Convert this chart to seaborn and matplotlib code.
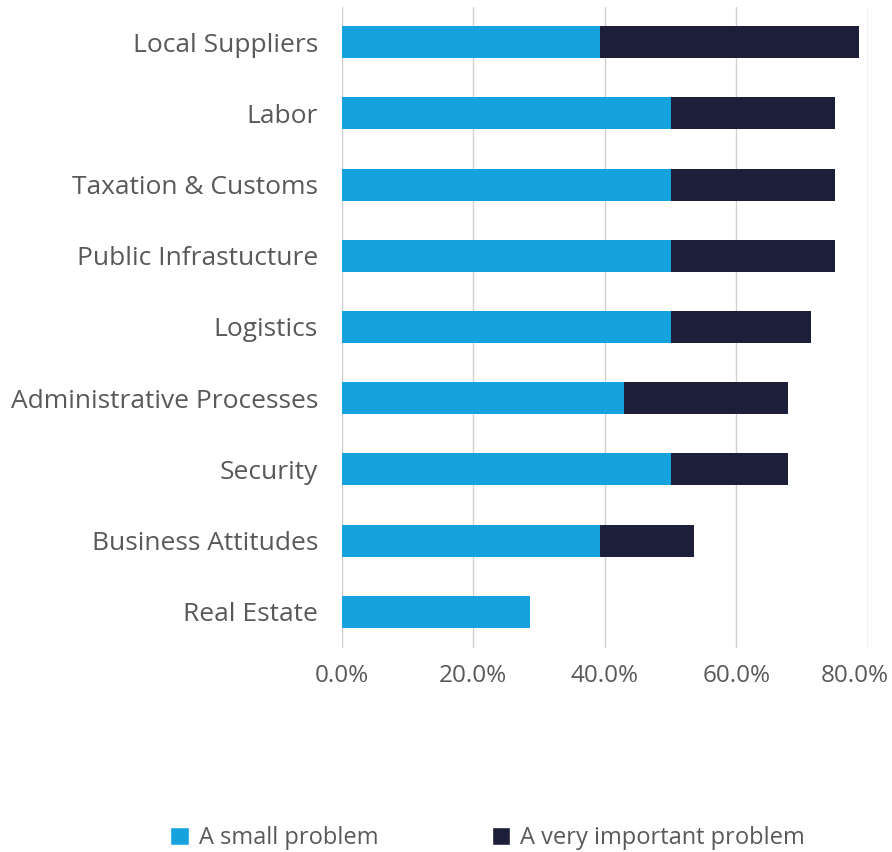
import matplotlib
matplotlib.use("Agg")
import matplotlib.pyplot as plt
import matplotlib.transforms as mtransforms
import seaborn as sns
import pandas as pd
from matplotlib.ticker import PercentFormatter
from matplotlib.patches import Patch

categories = [
    "Local Suppliers", "Labor", "Taxation & Customs", "Public Infrastucture",
    "Logistics", "Administrative Processes", "Security", "Business Attitudes",
    "Real Estate",
]
small_problem = [39.3, 50.0, 50.0, 50.0, 50.0, 42.9, 50.0, 39.3, 28.6]
very_important = [39.3, 25.0, 25.0, 25.0, 21.4, 25.0, 17.9, 14.3, 0.0]
xticks = [0, 20, 40, 60, 80]
series_names = ["A small problem", "A very important problem"]

BLUE = "#16A2DC"
NAVY = "#1D1F3A"
TEXT = "#595959"
GRID = "#D0D0D0"

sns.set_theme(style="white")
plt.rcParams["font.family"] = ["Open Sans", "DejaVu Sans"]

df = pd.DataFrame({
    "category": categories,
    "small": small_problem,
    "total": [s + v for s, v in zip(small_problem, very_important)],
})

fig = plt.figure(figsize=(8.92, 8.52), dpi=100)
ax = fig.add_axes([341.7 / 892, 1 - 647.5 / 852, (868 - 341.7) / 892, 641 / 852])

# stacked bars: full total in navy, the "small problem" share drawn over it
sns.barplot(data=df, x="total", y="category", color=NAVY, width=0.45,
            saturation=1, ax=ax, orient="h", linewidth=0)
sns.barplot(data=df, x="small", y="category", color=BLUE, width=0.45,
            saturation=1, ax=ax, orient="h", linewidth=0)

ax.set_xlim(0, 80)
ax.set_ylim(8.5, -0.5)
ax.set_xticks(xticks)
ax.xaxis.set_major_formatter(PercentFormatter(decimals=1))
ax.set_xlabel("")
ax.set_ylabel("")
ax.grid(axis="x", color=GRID, linewidth=1)
ax.set_axisbelow(True)
for s in ax.spines.values():
    s.set_visible(False)
ax.tick_params(axis="y", length=0, pad=17, labelsize=19, labelcolor=TEXT)
ax.tick_params(axis="x", length=0, pad=12, labelsize=17.5, labelcolor=TEXT)

# keep the last percentage label inside the canvas
fig.canvas.draw()
last = ax.get_xticklabels()[-1]
last.set_transform(last.get_transform() +
                   mtransforms.ScaledTranslation(-13 / 100, 0, fig.dpi_scale_trans))

handles = [Patch(facecolor=BLUE), Patch(facecolor=NAVY)]
fig.legend(handles, series_names, loc="center", bbox_to_anchor=(0.5465, 1 - 838 / 852),
           ncol=2, frameon=False, fontsize=17, labelcolor=TEXT,
           handlelength=0.8, handleheight=0.8, handletextpad=0.4, columnspacing=4.8)

fig.savefig("out.png", dpi=100)
